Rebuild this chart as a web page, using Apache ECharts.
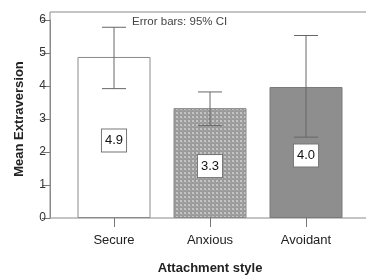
<!DOCTYPE html>
<html>
<head>
<meta charset="utf-8">
<script src="https://cdn.jsdelivr.net/npm/echarts@6/dist/echarts.min.js"></script>
<style>
  html, body { margin: 0; padding: 0; background: #fff; }
  #chart { width: 366px; height: 275px; }
</style>
</head>
<body>
<div id="chart"></div>
<script>
// data
const styles = ["Secure", "Anxious", "Avoidant"]
const means = [4.88, 3.33, 3.97]
const ciLow = [3.92, 2.8, 2.45]
const ciHigh = [5.78, 3.82, 5.53]
const yTicks = [0, 1, 2, 3, 4, 5, 6]

// dotted grey fill for the Anxious bar
const tile = document.createElement("canvas")
tile.width = 4
tile.height = 4
const tctx = tile.getContext("2d")
tctx.fillStyle = "#9a9a9a"
tctx.fillRect(0, 0, 4, 4)
tctx.fillStyle = "#c4c4c4"
tctx.fillRect(0, 0, 2, 2)
tctx.fillStyle = "#b0b0b0"
tctx.fillRect(2, 2, 1, 1)

const fills = [
  { color: "#ffffff", borderColor: "#8a8a8a" },
  { color: { image: tile, repeat: "repeat" }, borderColor: "#888" },
  { color: "#8e8e8e", borderColor: "#7a7a7a" }
]

const font = "Arial, 'Liberation Sans', sans-serif"
const chart = echarts.init(document.getElementById("chart"))

const option = {
  backgroundColor: "#fff",
  animation: false,
  title: {
    text: "Error bars: 95% CI",
    left: 127,
    top: 11,
    textStyle: { fontSize: 11.5, fontWeight: "normal", color: "#444", fontFamily: font }
  },
  grid: [
    { left: 66, right: 12, top: 20, bottom: 57, outerBoundsMode: "none" },
    // frame around the plot
    { left: 50, right: -1, top: 12, bottom: 57, outerBoundsMode: "none", show: true, borderColor: "#8a8a8a", borderWidth: 1 }
  ],
  xAxis: [
    {
      type: "category",
      gridIndex: 0,
      data: styles,
      axisLine: { show: false },
      axisTick: { show: true, alignWithLabel: true, length: 9, lineStyle: { color: "#777" } },
      axisLabel: { margin: 16, fontSize: 13, color: "#222", fontFamily: font },
      name: "Attachment style",
      nameLocation: "middle",
      nameGap: 44,
      nameTextStyle: { fontSize: 13, fontWeight: "bold", color: "#222", fontFamily: font }
    },
    { type: "value", gridIndex: 1, show: false }
  ],
  yAxis: [
    {
      type: "value",
      gridIndex: 0,
      min: 0,
      max: 6,
      interval: 1,
      offset: 16,
      splitLine: { show: false },
      axisLine: { show: true, lineStyle: { color: "#8a8a8a" } },
      axisTick: { show: true, length: 8, lineStyle: { color: "#777" } },
      axisLabel: {
        margin: 4,
        fontSize: 12,
        color: "#333",
        fontFamily: font,
        formatter: v => (yTicks.includes(v) ? String(v) : "")
      },
      name: "Mean Extraversion",
      nameLocation: "middle",
      nameGap: 24,
      nameTextStyle: { fontSize: 13, fontWeight: "bold", color: "#222", fontFamily: font }
    },
    { type: "value", gridIndex: 1, show: false }
  ],
  series: [
    {
      type: "bar",
      xAxisIndex: 0,
      yAxisIndex: 0,
      barWidth: 73,
      data: means.map((m, i) => ({
        value: m,
        itemStyle: { color: fills[i].color, borderColor: fills[i].borderColor, borderWidth: 1 }
      })),
      label: {
        show: true,
        position: "inside",
        offset: [0, 3],
        formatter: p => p.value.toFixed(1),
        fontSize: 13,
        color: "#111",
        fontFamily: font,
        backgroundColor: "#fff",
        borderColor: "#777",
        borderWidth: 1,
        padding: [5, 3, 4, 3]
      },
      z: 2
    },
    {
      type: "custom",
      xAxisIndex: 0,
      yAxisIndex: 0,
      data: styles.map((s, i) => [i, ciLow[i], ciHigh[i]]),
      renderItem: (params, api) => {
        const lo = api.coord([api.value(0), api.value(1)])
        const hi = api.coord([api.value(0), api.value(2)])
        const half = 12
        const style = { stroke: "#666", lineWidth: 1 }
        return {
          type: "group",
          children: [
            { type: "line", shape: { x1: hi[0], y1: hi[1], x2: lo[0], y2: lo[1] }, style },
            { type: "line", shape: { x1: hi[0] - half, y1: hi[1], x2: hi[0] + half, y2: hi[1] }, style },
            { type: "line", shape: { x1: lo[0] - half, y1: lo[1], x2: lo[0] + half, y2: lo[1] }, style }
          ]
        }
      },
      z: 3
    }
  ]
}

chart.setOption(option)
</script>
</body>
</html>
